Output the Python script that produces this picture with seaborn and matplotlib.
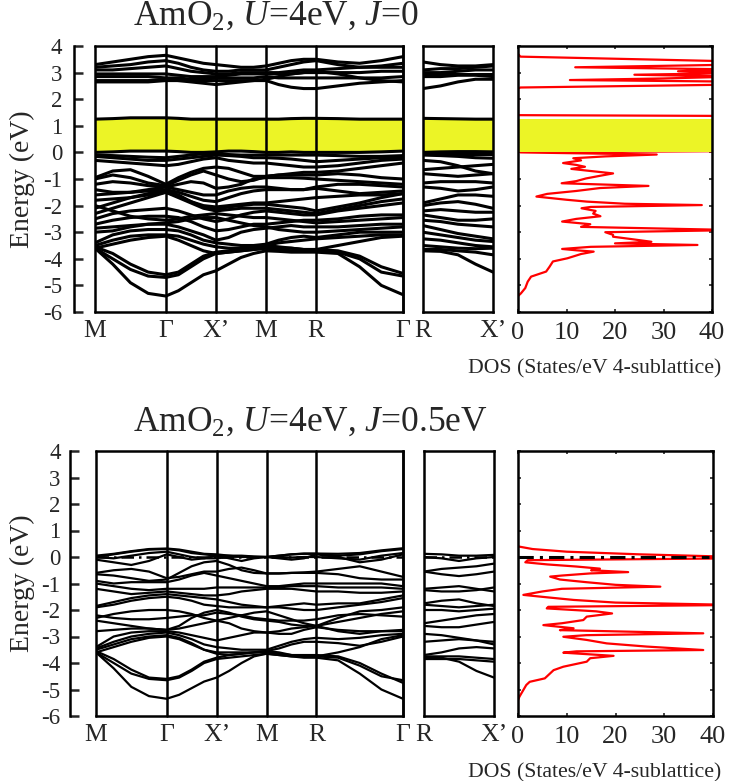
import numpy as np
import pandas as pd
import matplotlib
matplotlib.use("Agg")
import matplotlib.pyplot as plt
import seaborn as sns

# ------------------------------------------------------------------ data
path_labels = ["M", "Γ", "X’", "M", "R", "Γ"]
side_labels = ["R", "X’"]
seg_lengths = [np.sqrt(2) / 2, 0.5, 0.5, 0.5, np.sqrt(3) / 2]   # M-Γ, Γ-X', X'-M, M-R, R-Γ
side_length = np.sqrt(2) / 2                                   # R-X'
energy_ticks = [4, 3, 2, 1, 0, -1, -2, -3, -4, -5, -6]
dos_ticks = [0, 10, 20, 30, 40]
fermi_level = 0.0
titles = [r"AmO$_2$, $U$=4eV, $J$=0", r"AmO$_2$, $U$=4eV, $J$=0.5eV"]
dos_label = "DOS (States/eV 4-sublattice)"
energy_label = "Energy (eV)"

# U=4eV, J=0 : valence bands (values at M .. Γ .. X' .. M .. R .. Γ, quarter steps)
top_valence = [
    [-3.6, -4.2, -4.9, -5.3, -5.4, -5.2, -4.9, -4.6, -4.45, -4.2, -3.95, -3.8, -3.7, -3.72, -3.75, -3.75, -3.75, -3.8, -4.3, -5.0, -5.35],
    [-3.6, -4.0, -4.4, -4.65, -4.7, -4.6, -4.3, -4.0, -3.8, -3.75, -3.7, -3.65, -3.6, -3.65, -3.7, -3.7, -3.7, -3.75, -4.0, -4.5, -4.65],
    [-3.55, -3.8, -4.2, -4.5, -4.6, -4.5, -4.2, -3.9, -3.75, -3.7, -3.6, -3.55, -3.5, -3.55, -3.6, -3.65, -3.65, -3.7, -3.9, -4.3, -4.55],
    [-3.5, -3.3, -3.15, -3.1, -3.1, -3.15, -3.3, -3.45, -3.55, -3.6, -3.6, -3.55, -3.5, -3.4, -3.35, -3.3, -3.25, -3.2, -3.15, -3.1, -3.1],
    [-3.4, -3.1, -2.95, -2.9, -2.9, -2.95, -3.1, -3.3, -3.4, -3.45, -3.5, -3.5, -3.45, -3.3, -3.2, -3.15, -3.2, -3.1, -3.0, -3.0, -3.0],
    [-2.85, -2.8, -2.75, -2.7, -2.7, -2.8, -2.95, -3.1, -3.3, -3.2, -3.0, -2.9, -2.85, -2.8, -2.75, -2.8, -2.8, -2.8, -2.75, -2.7, -2.7],
    [-2.7, -2.55, -2.45, -2.4, -2.4, -2.45, -2.6, -2.8, -2.95, -2.9, -2.8, -2.7, -2.7, -2.65, -2.6, -2.55, -2.55, -2.5, -2.4, -2.35, -2.35],
    [-2.5, -2.3, -2.2, -2.15, -2.1, -2.2, -2.35, -2.5, -2.6, -2.5, -2.35, -2.25, -2.2, -2.25, -2.3, -2.35, -2.35, -2.2, -2.1, -2.0, -1.9],
    [-2.3, -2.1, -1.9, -1.7, -1.5, -1.7, -1.9, -2.1, -2.2, -2.15, -2.1, -2.1, -2.1, -2.15, -2.2, -2.25, -2.3, -2.15, -2.0, -1.85, -1.75],
    [-2.1, -1.9, -1.7, -1.55, -1.45, -1.6, -1.85, -2.05, -2.15, -2.05, -2.0, -1.95, -1.95, -2.0, -2.05, -2.1, -2.2, -2.05, -1.9, -1.7, -1.55],
    [-1.6, -1.55, -1.5, -1.45, -1.4, -1.5, -1.65, -1.8, -1.85, -1.7, -1.55, -1.45, -1.4, -1.4, -1.4, -1.4, -1.35, -1.45, -1.55, -1.5, -1.45],
    [-1.4, -1.5, -1.5, -1.4, -1.3, -1.4, -1.5, -1.6, -1.6, -1.45, -1.35, -1.3, -1.3, -1.35, -1.4, -1.4, -1.3, -1.2, -1.2, -1.25, -1.3],
    [-1.2, -1.1, -1.15, -1.25, -1.3, -1.2, -1.1, -1.15, -1.35, -1.3, -1.2, -1.0, -0.95, -0.95, -0.95, -0.97, -1.0, -1.05, -1.1, -1.15, -1.2],
    [-1.0, -0.85, -0.95, -1.15, -1.25, -1.05, -0.85, -0.7, -0.85, -1.0, -1.1, -1.05, -0.9, -0.85, -0.85, -0.85, -0.85, -0.8, -0.85, -0.95, -1.0],
    [-0.95, -0.7, -0.65, -0.9, -1.2, -0.95, -0.75, -0.6, -0.55, -0.6, -0.75, -0.9, -0.9, -0.85, -0.8, -0.75, -0.75, -0.7, -0.6, -0.5, -0.4],
    [-0.3, -0.35, -0.4, -0.45, -0.5, -0.45, -0.35, -0.25, -0.2, -0.3, -0.35, -0.4, -0.4, -0.45, -0.5, -0.55, -0.55, -0.5, -0.4, -0.3, -0.25],
    [-0.1, -0.12, -0.15, -0.18, -0.2, -0.15, -0.1, -0.05, -0.05, -0.08, -0.1, -0.1, -0.1, -0.1, -0.1, -0.1, -0.1, -0.12, -0.15, -0.15, -0.12],
    [-0.15, -0.2, -0.25, -0.3, -0.3, -0.25, -0.2, -0.15, -0.1, -0.12, -0.15, -0.2, -0.2, -0.22, -0.25, -0.3, -0.35, -0.3, -0.25, -0.2, -0.2],
    [-1.8, -1.75, -1.7, -1.6, -1.5, -1.65, -1.85, -2.0, -2.05, -2.0, -1.95, -1.9, -1.9, -1.85, -1.8, -1.75, -1.7, -1.65, -1.6, -1.6, -1.55],
    [-2.0, -2.2, -2.4, -2.5, -2.55, -2.5, -2.4, -2.35, -2.3, -2.35, -2.4, -2.45, -2.45, -2.5, -2.55, -2.6, -2.65, -2.6, -2.55, -2.5, -2.45],
    [-3.0, -2.95, -2.8, -2.7, -2.65, -2.6, -2.5, -2.45, -2.45, -2.55, -2.65, -2.75, -2.8, -2.9, -2.95, -3.0, -3.0, -2.95, -2.9, -2.85, -2.8],
    [-3.6, -3.45, -3.3, -3.2, -3.15, -3.3, -3.5, -3.7, -3.8, -3.75, -3.7, -3.65, -3.6, -3.6, -3.6, -3.65, -3.65, -3.5, -3.35, -3.2, -3.15],
]
top_conduction = [
    [3.3, 3.4, 3.5, 3.6, 3.65, 3.55, 3.45, 3.35, 3.3, 3.25, 3.2, 3.2, 3.25, 3.35, 3.45, 3.5, 3.5, 3.4, 3.35, 3.45, 3.6],
    [3.2, 3.25, 3.3, 3.4, 3.45, 3.35, 3.2, 3.1, 3.05, 3.05, 3.1, 3.1, 3.1, 3.2, 3.3, 3.4, 3.45, 3.3, 3.2, 3.25, 3.35],
    [3.1, 3.1, 3.15, 3.2, 3.25, 3.15, 3.05, 3.0, 2.95, 2.95, 3.0, 3.0, 3.0, 3.0, 3.05, 3.1, 3.1, 3.15, 3.2, 3.2, 3.2],
    [2.95, 2.95, 2.95, 2.95, 2.95, 2.9, 2.85, 2.85, 2.85, 2.9, 2.95, 2.95, 2.95, 2.95, 2.95, 3.0, 3.0, 3.0, 3.0, 3.05, 3.05],
    [2.85, 2.85, 2.85, 2.85, 2.8, 2.8, 2.75, 2.75, 2.8, 2.8, 2.8, 2.8, 2.85, 2.8, 2.8, 2.8, 2.8, 2.8, 2.8, 2.8, 2.85],
    [2.7, 2.7, 2.7, 2.7, 2.75, 2.7, 2.65, 2.6, 2.55, 2.6, 2.65, 2.7, 2.7, 2.55, 2.45, 2.4, 2.4, 2.5, 2.6, 2.65, 2.7],
    [2.65, 2.65, 2.65, 2.65, 2.7, 2.7, 2.7, 2.7, 2.7, 2.7, 2.7, 2.7, 2.75, 2.85, 2.95, 3.0, 3.05, 2.95, 2.8, 2.7, 2.65],
]
top_f_upper = [1.25, 1.27, 1.3, 1.3, 1.3, 1.28, 1.25, 1.25, 1.25, 1.25, 1.25, 1.25, 1.25, 1.25, 1.27, 1.28, 1.28, 1.27, 1.25, 1.25, 1.25]
top_f_lower = [0.0, 0.02, 0.05, 0.05, 0.05, 0.03, 0.0, 0.0, 0.02, 0.05, 0.05, 0.03, 0.0, 0.0, 0.02, 0.0, 0.0, 0.0, 0.0, 0.02, 0.05]

# U=4eV, J=0 : R - X' panel (R, quarter steps, X')
top_side_valence = [
    [-3.7, -3.72, -3.85, -4.2, -4.5], [-3.65, -3.65, -3.7, -3.75, -3.85], [-3.5, -3.55, -3.6, -3.62, -3.6],
    [-3.25, -3.3, -3.4, -3.5, -3.55], [-3.0, -3.1, -3.2, -3.3, -3.35], [-2.75, -2.9, -3.05, -3.15, -3.25],
    [-2.55, -2.6, -2.7, -2.75, -2.8], [-2.35, -2.45, -2.55, -2.55, -2.5], [-2.2, -2.15, -2.2, -2.25, -2.25],
    [-2.0, -1.9, -1.85, -1.95, -2.1], [-1.9, -1.75, -1.6, -1.6, -1.65], [-1.3, -1.35, -1.45, -1.4, -1.3],
    [-1.15, -1.1, -1.1, -1.1, -1.15], [-0.8, -0.85, -0.9, -0.85, -0.8], [-0.65, -0.6, -0.55, -0.5, -0.45],
    [-0.3, -0.35, -0.5, -0.7, -0.8], [-0.1, -0.12, -0.15, -0.2, -0.22], [-0.05, -0.05, -0.05, -0.05, -0.05],
]
top_side_conduction = [
    [3.4, 3.3, 3.25, 3.25, 3.3], [3.1, 3.15, 3.15, 3.2, 3.25], [3.0, 3.0, 3.05, 3.1, 3.1],
    [2.95, 2.95, 2.95, 2.95, 2.95], [2.85, 2.85, 2.9, 2.9, 2.85], [2.4, 2.5, 2.65, 2.75, 2.75],
]
top_side_f_upper = [1.28, 1.27, 1.26, 1.25, 1.25]
top_side_f_lower = [0.0, 0.02, 0.03, 0.03, 0.02]

# U=4eV, J=0.5eV : bands
bottom_bands = [
    [-3.6, -4.2, -4.9, -5.25, -5.35, -5.2, -4.95, -4.7, -4.55, -4.3, -4.0, -3.75, -3.65, -3.7, -3.75, -3.8, -3.8, -3.9, -4.4, -5.0, -5.35],
    [-3.6, -4.0, -4.4, -4.6, -4.65, -4.55, -4.3, -4.0, -3.85, -3.8, -3.75, -3.7, -3.65, -3.7, -3.75, -3.75, -3.75, -3.8, -4.1, -4.5, -4.65],
    [-3.55, -3.85, -4.25, -4.55, -4.6, -4.5, -4.25, -3.95, -3.8, -3.7, -3.65, -3.6, -3.6, -3.65, -3.7, -3.7, -3.7, -3.75, -4.0, -4.4, -4.75],
    [-3.5, -3.3, -3.1, -3.0, -2.95, -3.05, -3.25, -3.5, -3.6, -3.6, -3.6, -3.6, -3.55, -3.45, -3.3, -3.2, -3.2, -3.25, -3.35, -3.2, -3.0],
    [-3.45, -3.2, -3.0, -2.9, -2.85, -2.95, -3.1, -3.3, -3.4, -3.45, -3.5, -3.5, -3.5, -3.35, -3.2, -3.1, -3.05, -3.1, -3.05, -2.95, -2.9],
    [-3.4, -3.0, -2.85, -2.8, -2.8, -2.85, -2.95, -3.05, -3.15, -3.05, -2.95, -2.85, -2.85, -2.9, -2.9, -2.75, -2.65, -2.75, -2.8, -2.8, -2.8],
    [-2.8, -2.75, -2.7, -2.7, -2.75, -2.7, -2.6, -2.5, -2.4, -2.5, -2.7, -2.8, -2.85, -2.8, -2.7, -2.65, -2.6, -2.8, -2.9, -2.8, -2.75],
    [-2.4, -2.5, -2.6, -2.7, -2.75, -2.6, -2.3, -2.1, -2.0, -2.1, -2.25, -2.35, -2.4, -2.45, -2.55, -2.6, -2.6, -2.45, -2.3, -2.15, -2.05],
    [-2.3, -2.15, -2.05, -2.0, -2.0, -2.05, -2.15, -2.3, -2.4, -2.3, -2.2, -2.1, -2.05, -2.2, -2.35, -2.5, -2.6, -2.3, -2.05, -2.0, -1.9],
    [-1.9, -1.8, -1.65, -1.55, -1.5, -1.55, -1.65, -1.8, -1.85, -1.9, -1.9, -1.9, -1.9, -1.9, -1.95, -2.0, -2.0, -1.9, -1.8, -1.7, -1.55],
    [-1.85, -1.7, -1.55, -1.45, -1.4, -1.45, -1.5, -1.55, -1.6, -1.7, -1.8, -1.85, -1.9, -1.85, -1.8, -1.75, -1.8, -1.75, -1.75, -1.6, -1.45],
    [-1.2, -1.3, -1.4, -1.35, -1.3, -1.35, -1.4, -1.45, -1.45, -1.4, -1.3, -1.25, -1.2, -1.2, -1.2, -1.25, -1.3, -1.3, -1.35, -1.35, -1.3],
    [-1.0, -1.1, -1.2, -1.25, -1.2, -1.2, -1.2, -1.2, -1.15, -1.15, -1.15, -1.15, -1.15, -1.15, -1.1, -1.1, -1.1, -1.15, -1.15, -1.15, -1.2],
    [-0.9, -1.0, -0.95, -0.95, -0.95, -0.85, -0.7, -0.6, -0.7, -0.8, -0.9, -1.0, -1.1, -1.1, -1.05, -1.0, -1.0, -1.0, -1.0, -1.0, -1.1],
    [-0.65, -0.7, -0.8, -0.9, -0.85, -0.6, -0.35, -0.2, -0.15, -0.3, -0.5, -0.6, -0.62, -0.62, -0.6, -0.6, -0.6, -0.65, -0.8, -0.85, -0.85],
    [-0.6, -0.5, -0.45, -0.55, -0.8, -0.75, -0.65, -0.55, -0.55, -0.45, -0.4, -0.5, -0.62, -0.62, -0.6, -0.58, -0.55, -0.45, -0.35, -0.55, -0.75],
    [-0.1, -0.2, -0.3, -0.15, 0.1, 0.0, -0.1, -0.05, 0.05, -0.05, -0.15, -0.05, 0.0, -0.05, -0.1, -0.05, 0.1, 0.0, -0.2, -0.1, 0.1],
    [0.0, 0.1, 0.2, 0.28, 0.3, 0.25, 0.15, 0.1, 0.05, 0.05, 0.05, 0.02, 0.0, 0.05, 0.1, 0.12, 0.12, 0.05, 0.1, 0.22, 0.3],
    [0.05, 0.12, 0.22, 0.3, 0.32, 0.28, 0.2, 0.12, 0.1, 0.05, 0.0, 0.0, 0.0, 0.05, 0.1, 0.13, 0.13, 0.12, 0.15, 0.25, 0.33],
    [0.0, -0.05, 0.05, 0.15, 0.2, 0.1, 0.0, -0.05, -0.05, 0.0, 0.02, 0.0, 0.0, 0.0, -0.02, 0.0, 0.0, -0.05, -0.1, 0.05, 0.15],
    [-2.2, -2.3, -2.35, -2.35, -2.3, -2.25, -2.2, -2.2, -2.1, -2.15, -2.2, -2.3, -2.35, -2.4, -2.4, -2.4, -2.35, -2.2, -2.15, -2.2, -2.25],
    [-3.6, -3.4, -3.2, -3.05, -3.0, -3.1, -3.3, -3.5, -3.65, -3.7, -3.65, -3.6, -3.55, -3.6, -3.7, -3.75, -3.75, -3.6, -3.4, -3.1, -2.95],
]
bottom_side_bands = [
    [0.12, 0.1, 0.05, 0.05, 0.08], [0.0, -0.05, -0.15, -0.05, 0.0], [-0.55, -0.45, -0.4, -0.35, -0.25],
    [-0.55, -0.65, -0.72, -0.65, -0.55], [-1.2, -1.15, -1.1, -1.2, -1.3], [-1.25, -1.3, -1.3, -1.25, -1.15],
    [-1.75, -1.65, -1.6, -1.75, -1.85], [-1.8, -1.85, -1.9, -1.85, -1.8], [-2.0, -2.0, -2.05, -2.0, -1.95],
    [-2.5, -2.4, -2.3, -2.2, -2.15], [-2.6, -2.65, -2.65, -2.55, -2.45], [-2.9, -2.95, -3.05, -3.15, -3.2],
    [-3.2, -3.15, -3.1, -3.15, -3.3], [-3.7, -3.6, -3.45, -3.4, -3.45], [-3.75, -3.75, -3.75, -3.8, -3.85],
    [-3.8, -3.8, -3.95, -4.3, -4.55], [-3.85, -3.85, -3.85, -3.9, -3.95],
]

# densities of states
top_dos_E = [3.70, 3.60, 3.42, 3.30, 3.20, 3.12, 3.05, 2.98, 2.92, 2.85, 2.78, 2.72, 2.66, 2.55, 2.44,
             2.40, 1.40, 1.37, 1.30, 0.05, 0.00, -0.08, -0.15, -0.22, -0.30, -0.40, -0.47, -0.54, -0.62, -0.70,
             -0.79, -0.88, -0.98, -1.08, -1.16, -1.26, -1.34, -1.45, -1.56, -1.66, -1.78, -1.85, -1.93, -1.98, -2.05,
             -2.10, -2.20, -2.30, -2.40, -2.50, -2.60, -2.70, -2.80, -2.92, -3.00, -3.10, -3.17, -3.25, -3.36, -3.42,
             -3.48, -3.55, -3.63, -3.68, -3.73, -3.82, -3.98, -4.10, -4.30, -4.48, -4.67, -4.86, -5.10, -5.30, -5.40]
top_dos_val = [0, 0.5, 45, 45, 11.8, 45, 33, 45, 24, 45, 30, 10.7, 45, 45, 0.5,
               0, 0, 45, 45, 45, 0.5, 28.6, 18, 11.4, 13, 9.3, 12, 13.8, 11, 15,
               19.6, 16.9, 14, 12, 9, 26.9, 16.9, 12, 6, 3.8, 10, 14.2, 22, 37.9, 15,
               13.1, 16, 15.5, 17, 12, 9.1, 14.9, 13, 45, 18, 19.6, 19.6, 23, 27.5, 20,
               37, 15, 9.1, 12, 15.6, 13, 10.2, 7.2, 6.5, 5.8, 2.7, 2.0, 1.5, 0.6, 0]
bottom_dos_E = [0.40, 0.30, 0.20, 0.10, 0.05, 0.00, -0.05, -0.12, -0.20, -0.28, -0.36, -0.44, -0.50, -0.57, -0.62,
                -0.70, -0.74, -0.85, -0.95, -1.05, -1.12, -1.20, -1.30, -1.43, -1.52, -1.62, -1.72, -1.81, -1.88, -1.94,
                -2.05, -2.13, -2.25, -2.38, -2.50, -2.57, -2.69, -2.76, -2.88, -2.95, -3.01, -3.13, -3.26, -3.38, -3.51,
                -3.56, -3.61, -3.73, -3.82, -3.95, -4.14, -4.27, -4.58, -4.71, -4.83, -5.27, -5.40]
bottom_dos_val = [0, 3, 10, 25, 35.3, 45, 45, 2, 1.5, 6, 12, 16.8, 15, 22.6, 14.8,
                  9, 6.6, 8.6, 14, 20, 29.2, 9, 5, 1.1, 5.9, 11.4, 20, 45, 6.2, 5.9,
                  16, 19.3, 14.1, 13.4, 9, 5.2, 11.4, 8.6, 38, 14, 9.3, 14.1, 18.2, 26.4, 38,
                  12, 9.3, 19.6, 14.8, 14.1, 9.3, 7.3, 5.5, 2.4, 1.7, 0.3, 0]

# ------------------------------------------------------------------ style
sns.set_style("ticks")
plt.rcParams["font.family"] = ["Liberation Serif", "DejaVu Serif"]
plt.rcParams["mathtext.fontset"] = "custom"
plt.rcParams["mathtext.rm"] = "Liberation Serif"
plt.rcParams["mathtext.it"] = "Liberation Serif:italic"
plt.rcParams["mathtext.bf"] = "Liberation Serif:bold"

YELLOW = "#ECF426"
RED = "#FF0000"
W, H = 730, 781
FRAME_LW = 1.8


def rect(l, r, t, b):
    return [l / W, 1 - b / H, (r - l) / W, (b - t) / H]


def path_grid(lengths, n=4):
    nodes = np.concatenate([[0.0], np.cumsum(lengths)])
    pts = [nodes[0]]
    for a, b in zip(nodes[:-1], nodes[1:]):
        pts.extend(np.linspace(a, b, n + 1)[1:])
    return nodes, np.array(pts)


main_nodes, main_k = path_grid(seg_lengths)
side_nodes, side_k = path_grid([side_length])


def bands_frame(k, bands):
    return pd.DataFrame({
        "k": np.tile(k, len(bands)),
        "E": np.concatenate([np.asarray(b, float) for b in bands]),
        "band": np.repeat(np.arange(len(bands)), len(k)),
    })


def draw_bands(ax, k, bands, lw):
    sns.lineplot(data=bands_frame(k, bands), x="k", y="E", units="band", estimator=None,
                 sort=False, color="black", linewidth=lw, ax=ax, legend=False, zorder=3)


def frame(ax):
    for s in ax.spines.values():
        s.set_linewidth(FRAME_LW)
        s.set_color("black")
        s.set_zorder(6)
    ax.set_ylim(energy_ticks[-1], energy_ticks[0])
    ax.set_xlabel("")
    ax.set_ylabel("")


fig = plt.figure(figsize=(W / 100, H / 100), dpi=100)

rows = [
    dict(y=(46, 312), main=(95, 403), side=(423, 493), dos=(518, 712), spine_off=15.0, ypad=8.5,
         title_y=25, dos_lab_y=373),
    dict(y=(451, 716), main=(96, 403), side=(424, 494), dos=(518, 713), spine_off=19.0, ypad=6.5,
         title_y=431, dos_lab_y=777),
]

for ri, row in enumerate(rows):
    t, b = row["y"]
    ax = fig.add_axes(rect(row["main"][0], row["main"][1], t, b))
    axs = fig.add_axes(rect(row["side"][0], row["side"][1], t, b))
    axd = fig.add_axes(rect(row["dos"][0], row["dos"][1], t, b))

    if ri == 0:
        ax.fill_between(main_k, top_f_lower, top_f_upper, color=YELLOW, lw=0, zorder=1)
        draw_bands(ax, main_k, top_valence + top_conduction + [top_f_upper, top_f_lower], 2.2)
        axs.fill_between(side_k, top_side_f_lower, top_side_f_upper, color=YELLOW, lw=0, zorder=1)
        draw_bands(axs, side_k, top_side_valence + top_side_conduction + [top_side_f_upper, top_side_f_lower], 2.2)
        axd.fill_betweenx([np.mean(top_f_lower), np.mean(top_f_upper)], 0, dos_ticks[-1],
                          color=YELLOW, lw=0, zorder=4)
        dE, dV = top_dos_E, top_dos_val
    else:
        draw_bands(ax, main_k, bottom_bands, 1.6)
        draw_bands(axs, side_k, bottom_side_bands, 1.6)
        for a in (ax, axs):
            a.axhline(fermi_level, color="black", lw=1.8, ls=(0, (5, 2, 1, 2)), zorder=4)
        dE, dV = bottom_dos_E, bottom_dos_val

    sns.lineplot(x=dV, y=dE, sort=False, estimator=None, color=RED, linewidth=1.6, ax=axd, zorder=3)
    if ri == 1:
        axd.axhline(fermi_level, xmax=0.98, color="black", lw=2.2, ls=(0, (5, 2, 1, 2)), zorder=4)

    # main band panel
    frame(ax)
    ax.set_xlim(main_nodes[0], main_nodes[-1])
    for xn in main_nodes:
        ax.axvline(xn, color="black", lw=FRAME_LW, zorder=5, clip_on=False)
    ax.set_xticks(main_nodes)
    ax.set_xticklabels(path_labels)
    ax.set_yticks(energy_ticks)
    ax.set_yticklabels([str(v) for v in energy_ticks])
    ax.spines["left"].set_position(("outward", row["spine_off"]))
    ax.tick_params(axis="y", direction="in", length=6.5, width=1.8, labelsize=16.5, pad=row["ypad"],
                   left=True, right=False)
    ax.tick_params(axis="x", length=0, labelsize=18.5, pad=6)

    # side panel
    frame(axs)
    axs.set_xlim(side_nodes[0], side_nodes[-1])
    axs.set_xticks(side_nodes)
    axs.set_xticklabels(side_labels)
    axs.set_yticks([])
    axs.tick_params(axis="x", length=0, labelsize=18.5, pad=6)

    # DOS panel
    frame(axd)
    axd.set_xlim(dos_ticks[0], dos_ticks[-1])
    axd.set_xticks(dos_ticks)
    axd.set_xticklabels([str(v) for v in dos_ticks])
    axd.set_yticks(energy_ticks)
    axd.tick_params(axis="both", direction="in", length=2.5, width=1.2, top=True, right=True,
                    left=True, bottom=True, labelleft=False)
    axd.tick_params(axis="x", labelsize=19, pad=7)

    # texts
    fig.text(133 / W, 1 - row["title_y"] / H, titles[ri], fontsize=25.5, ha="left", va="baseline")
    fig.text(22 / W, 1 - ((t + b) / 2) / H, energy_label, fontsize=20, rotation=90,
             ha="center", va="center")
    fig.text(595 / W, 1 - row["dos_lab_y"] / H, dos_label, fontsize=15.7, ha="center", va="baseline")

fig.savefig("out.png", dpi=100)
